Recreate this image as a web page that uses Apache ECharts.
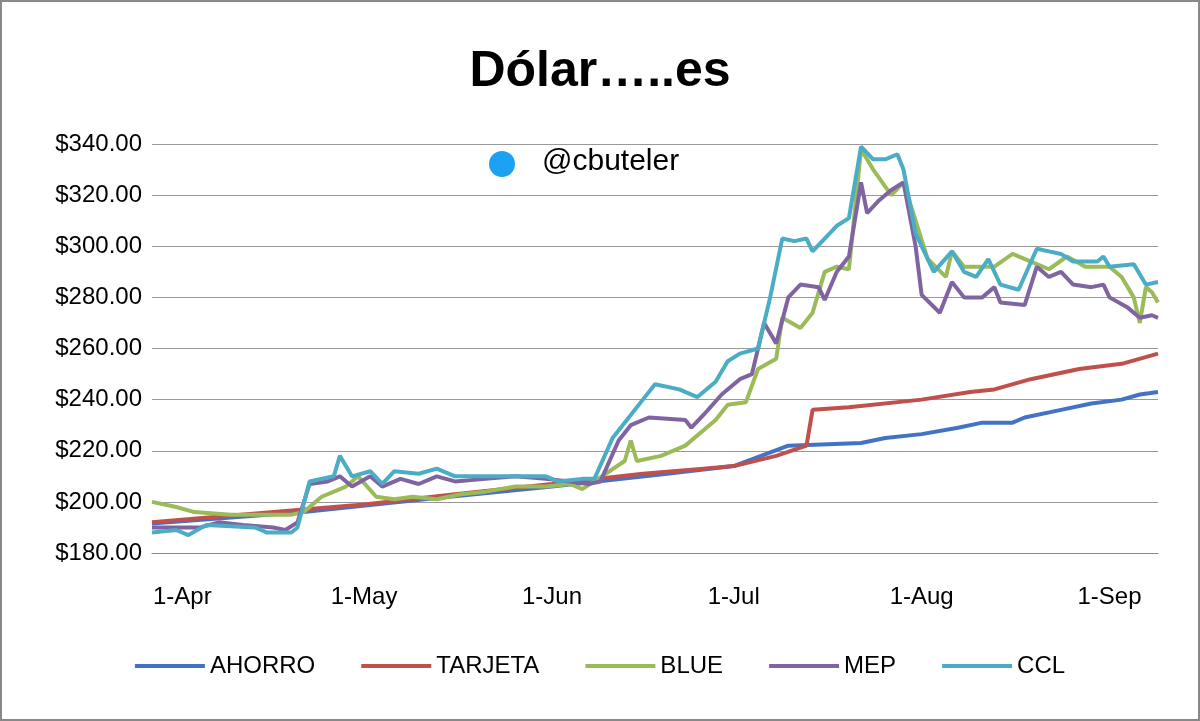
<!DOCTYPE html><html><head><meta charset="utf-8"><script src="https://cdn.jsdelivr.net/npm/echarts@6/dist/echarts.min.js"></script>
<style>html,body{margin:0;padding:0;background:#fff}#c{width:1200px;height:721px;box-sizing:border-box;border:2px solid #888}</style></head><body><div id="c"></div><script>
const tickDays=[0,30,61,91,122,153];
const tickLabels=['1-Apr','1-May','1-Jun','1-Jul','1-Aug','1-Sep'];
const ahorro=[[-5,191.5],[20,196],[40,201],[61,206],[80,211],[91,214],[100,222],[112,223],[116,225],[122,226.5],[128,229],[132,231],[137,231],[139,233],[145,236],[150,238.5],[155,240],[158,242],[161,243]];
const tarjeta=[[-5,192],[20,197],[30,199],[45,203],[61,207],[76,211],[86,213],[91,214],[98,218],[103,222],[104,236],[110,237],[122,240],[130,243],[134,244],[140,248],[148,252],[155,254],[161,258]];
const blue=[[-5,200],[-1,198],[2,196],[8,195],[18,195],[20,196],[23,202],[27,206],[29,210],[32,202],[35,201],[38,202],[42,201],[46,203],[50,204],[55,206],[60,206],[64,207],[66,205],[68,208],[73,216],[74,224],[75,216],[79,218],[83,222],[86,228],[88,232],[90,238],[93,239],[95,252],[98,256],[99,272],[102,268],[104,274],[106,290],[108,292],[110,291],[112,338],[114,330],[117,320],[119,325],[121,310],[123,295],[126,288],[127,298],[129,292],[134,292],[137,297],[141,293],[143,291],[146,296],[149,292],[153,292],[155,288],[157,280],[158,270],[159,284],[160,282],[161,278]];
const mep=[[-5,190],[3,190],[6,192],[10,191],[15,190],[17,189],[19,192],[21,207],[24,208],[26,210],[28,206],[31,210],[33,206],[36,209],[39,207],[42,210],[45,208],[50,209],[55,210],[60,209],[64,208],[67,207],[69,208],[72,224],[74,230],[77,233],[83,232],[84,229],[86,234],[89,242],[92,248],[94,250],[96,270],[98,262],[100,280],[102,285],[105,284],[106,279],[108,290],[110,296],[112,325],[113,313],[115,318],[117,322],[119,325],[121,300],[122,281],[125,274],[127,286],[129,280],[132,280],[134,284],[135,278],[139,277],[141,292],[143,288],[145,290],[147,285],[150,284],[152,285],[153,280],[156,276],[158,272],[160,273],[161,272]];
const ccl=[[-5,188],[-1,189],[1,187],[4,191],[12,190],[14,188],[18,188],[19,190],[21,208],[25,210],[26,218],[28,210],[31,212],[33,207],[35,212],[39,211],[42,213],[45,210],[52,210],[60,210],[62,208],[66,209],[68,209],[71,225],[74,234],[76,240],[78,246],[82,244],[85,241],[88,247],[90,255],[92,258],[95,260],[97,280],[99,303],[101,302],[103,303],[104,298],[106,303],[108,308],[110,311],[112,339],[114,334],[116,334],[118,336],[119,330],[121,305],[124,290],[127,298],[129,290],[131,288],[133,295],[135,285],[138,283],[141,299],[143,298],[145,297],[147,294],[151,294],[152,296],[153,292],[157,293],[159,285],[161,286]];
const ch=echarts.init(document.getElementById('c'));
const mk=(n,d,c)=>({name:n,type:'line',data:d,showSymbol:false,lineStyle:{width:4,color:c},itemStyle:{color:c}});
ch.setOption({
 textStyle:{fontFamily:'Liberation Sans'},
 title:{text:'Dólar…..es',left:'center',top:40,textStyle:{fontSize:50,fontWeight:'bold',color:'#000'}},
 legend:{bottom:36,itemWidth:70,itemHeight:4,itemGap:46,icon:'rect',textStyle:{fontSize:24,color:'#000'},data:['AHORRO','TARJETA','BLUE','MEP','CCL']},
 grid:{left:150,right:40,top:142,bottom:166},
 xAxis:{type:'value',min:-5,max:161,axisLine:{lineStyle:{color:'#888'}},splitLine:{show:false},
  axisTick:{show:false},axisLabel:{customValues:tickDays,formatter:v=>tickLabels[tickDays.indexOf(v)],fontSize:24,color:'#000',margin:32}},
 yAxis:{type:'value',min:180,max:340,interval:20,axisTick:{show:false},axisLabel:{formatter:v=>'$'+v.toFixed(2),fontSize:24,color:'#000',margin:10},splitLine:{lineStyle:{color:'#999'}},axisLine:{show:false}},
 graphic:[{type:'circle',shape:{cx:500,cy:162,r:13},style:{fill:'#1da1f2'}},
  {type:'text',left:540,top:145,style:{text:'@cbuteler',fontSize:30,fill:'#000',fontFamily:'Liberation Sans'}}],
 series:[mk('AHORRO',ahorro,'#4472c4'),mk('TARJETA',tarjeta,'#c0504d'),mk('BLUE',blue,'#9bbb59'),mk('MEP',mep,'#8064a2'),mk('CCL',ccl,'#4bacc6')]
});
</script></body></html>
